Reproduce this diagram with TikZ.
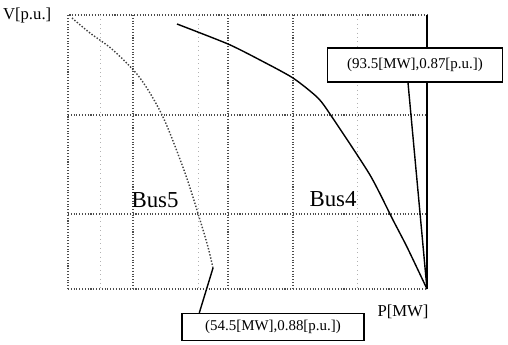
\documentclass[tikz,border=0pt]{standalone}
\usepackage{fontspec}
\setmainfont{Liberation Serif}
\usepackage{tikz}
\usetikzlibrary{positioning}
\usetikzlibrary{calc}
\tikzstyle{gridline}=[densely dotted,black!70,line width=0.6pt]
\tikzstyle{faintline}=[dotted,black!30,line width=0.5pt]
\tikzstyle{callout}=[rectangle,draw,thick,fill=white,inner sep=0pt,font=\fontsize{8.5}{10}\selectfont]
\tikzstyle{busname}=[font=\fontsize{13}{15}\selectfont]
\tikzstyle{axisname}=[font=\fontsize{9.5}{11}\selectfont]
\tikzstyle{leader} = [draw,thick]

\begin{document}
\begin{tikzpicture}[x=0.02cm,y=-0.02cm]
	\useasboundingbox (0,0) rectangle (508,345);

	\def\xl{68};
	\def\xr{427};
	\def\yt{15};
	\def\yb{289};

%frame
	\coordinate (vtop) at (\xl,\yt);
	\coordinate (nose) at (\xr,\yb);
	\draw[gridline] (\xl,\yb) -- (vtop) -- (\xr,\yt);
	\draw[gridline] (\xl,\yb) -- (nose);
	\draw[thick] (\xr,\yt) -- (nose);
%grid
	\foreach \x in {133,228,293}
		\draw[gridline] (\x,\yt) -- (\x,\yb);
	\foreach \x in {100,198,357}
		\draw[faintline] (\x,\yt) -- (\x,\yb);
	\foreach \y in {115,214}
		\draw[gridline] (\xl,\y) -- (\xr,\y);

%Bus5 curve
	\coordinate (b5end) at (213,268);
	\draw[densely dotted,thick,black!75] plot[smooth] coordinates {(72,18) (90,33) (113,50) (140,78) (163,117) (185,173) (200,220) (208,247) (213,268)};
%Bus4 curve
	\draw[thick] plot[smooth,tension=0.4] coordinates {(177,24) (228,44) (260,60) (293,78) (318,98) (332,117) (370,175) (393,220) (407,247) (427,289)};

%callouts
	\node[callout,minimum width=3.5cm,minimum height=0.68cm] (upbox) at (415,65) {(93.5[MW],0.87[p.u.])};
	\node[callout,minimum width=3.64cm,minimum height=0.54cm] (lowbox) at (273,327) {(54.5[MW],0.88[p.u.])};
	\path[leader] ([xshift=-0.14cm]upbox.south) -- (nose);
	\path[leader] ([xshift=0.36cm]lowbox.north west) -- (b5end);

%labels
	\node[axisname,left=6pt of vtop] (vlabel) {V[p.u.]};
	\node[axisname] (plabel) at (403,312) {P[MW]};
	\node[busname] (bus5) at (155,200) {Bus5};
	\node[busname] (bus4) at (333,199) {Bus4};

\end{tikzpicture}
\end{document}
